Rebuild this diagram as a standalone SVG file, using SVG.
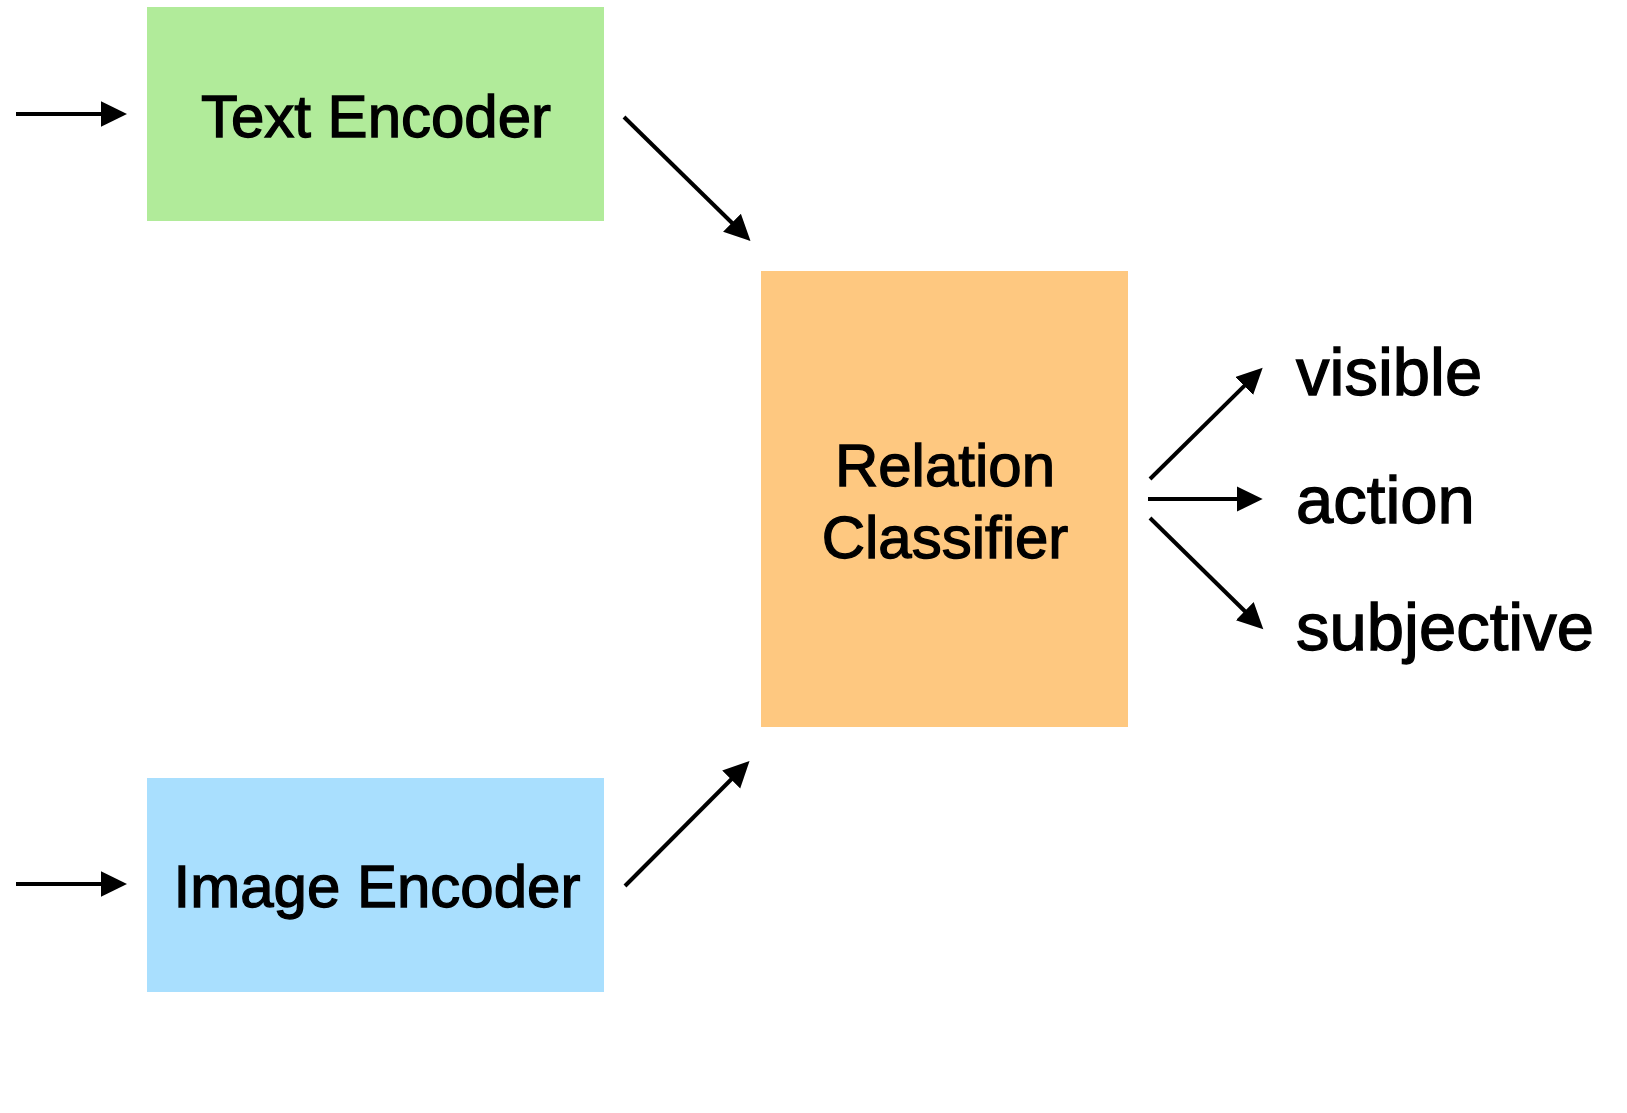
<svg xmlns="http://www.w3.org/2000/svg" width="1627" height="1113" viewBox="0 0 1627 1113">
<style>
text { font-family: "Liberation Sans", Arial, Helvetica, sans-serif; fill: #000; stroke: #000; stroke-width: 1.3; }
.box-text { font-size: 60px; text-anchor: middle; }
.label { font-size: 67px; }
.conn { stroke: #000; stroke-width: 4; fill: none; marker-end: url(#ah); }
</style>
<defs>
<marker id="ah" markerUnits="userSpaceOnUse" markerWidth="30" markerHeight="30" refX="2" refY="12.7" orient="auto">
<path d="M0,0 L26,12.7 L0,25.4 z" fill="#000"/>
</marker>
</defs>
<rect width="1627" height="1113" fill="#fff"/>
<g id="text-encoder">
<rect x="147" y="7" width="457" height="214" fill="#b1eb9a"/>
<text class="box-text" x="376" y="137">Text Encoder</text>
</g>
<g id="image-encoder">
<rect x="147" y="778" width="457" height="214" fill="#a9dffe"/>
<text class="box-text" x="377" y="907">Image Encoder</text>
</g>
<g id="relation-classifier">
<rect x="761" y="271" width="367" height="456" fill="#fec880"/>
<text class="box-text" x="945" y="486">Relation</text>
<text class="box-text" x="945" y="558">Classifier</text>
</g>
<g id="label-visible"><text class="label" x="1296" y="395">visible</text></g>
<g id="label-action"><text class="label" x="1296" y="523">action</text></g>
<g id="label-subjective"><text class="label" x="1296" y="650">subjective</text></g>
<g id="connectors">
<line class="conn" x1="16" y1="114" x2="103" y2="114"/>
<line class="conn" x1="16" y1="884" x2="103" y2="884"/>
<line class="conn" x1="624" y1="117" x2="733.4" y2="224.2"/>
<line class="conn" x1="625" y1="886" x2="732.6" y2="778"/>
<line class="conn" x1="1150" y1="479" x2="1245.6" y2="384.6"/>
<line class="conn" x1="1148" y1="499" x2="1238.7" y2="499"/>
<line class="conn" x1="1150" y1="518" x2="1246.2" y2="612.5"/>
</g>
</svg>
